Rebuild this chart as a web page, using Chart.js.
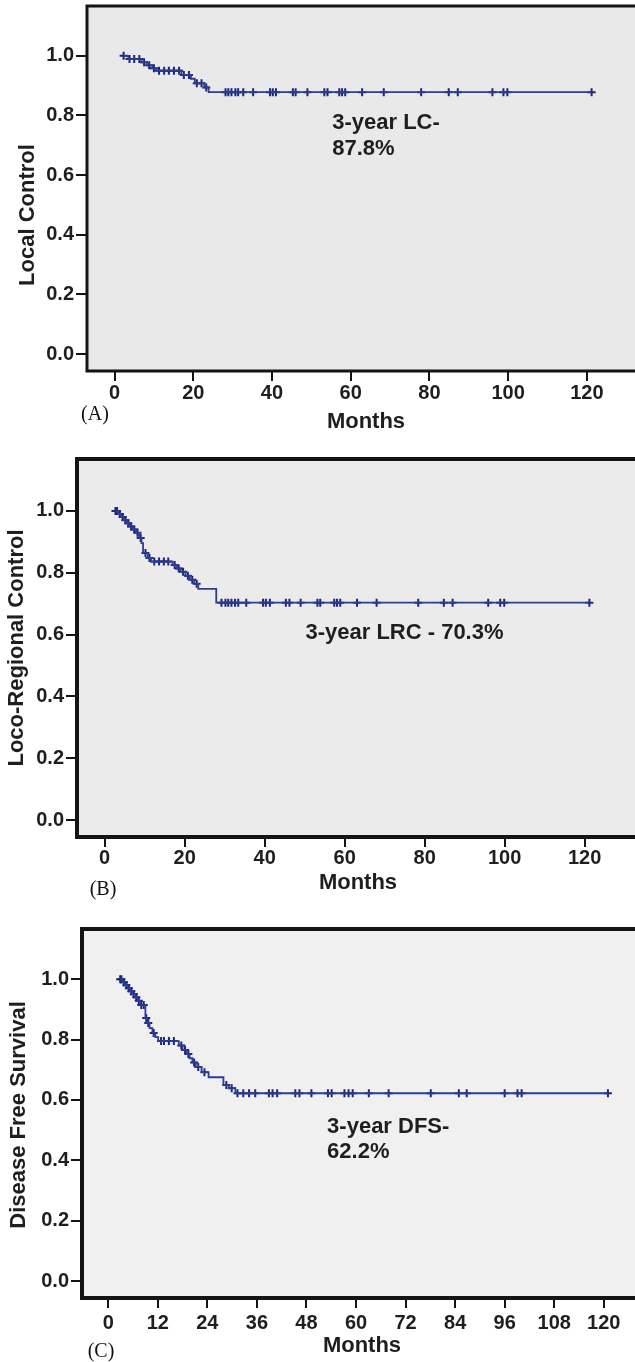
<!DOCTYPE html>
<html>
<head>
<meta charset="utf-8">
<script src="https://cdn.jsdelivr.net/npm/chart.js@4.4.0/dist/chart.umd.min.js"></script>
<style>
  body { margin: 0; background: #fff; }
  #wrap { position: relative; width: 635px; height: 1362px; }
  canvas { position: absolute; left: 0; }
</style>
</head>
<body>
<div id="wrap">
  <canvas id="chartA" width="635" height="440" style="top:0px;width:635px;height:440px"></canvas>
  <canvas id="chartB" width="635" height="460" style="top:440px;width:635px;height:460px"></canvas>
  <canvas id="chartC" width="635" height="462" style="top:900px;width:635px;height:462px"></canvas>
</div>
<script>
// 刻度
const yTicks = [0, 0.2, 0.4, 0.6, 0.8, 1.0];
const xTicksAB = [0, 20, 40, 60, 80, 100, 120];
const xTicksC = [0, 12, 24, 36, 48, 60, 72, 84, 96, 108, 120];

// (A) Local Control: 事件時間 / 存活率 / 截尾時間 (months)
const lcTimes = [2.3, 3.5, 6.8, 8.2, 9.6, 10.6, 17.0, 19.4, 20.4, 22.8, 23.9, 121.2];
const lcSurv  = [1.0, 0.989, 0.978, 0.968, 0.958, 0.950, 0.936, 0.923, 0.908, 0.894, 0.878, 0.878];
const lcCensor = [2.3, 3.8, 5.0, 6.3, 7.5, 8.8, 10.0, 11.3, 12.6, 13.8, 15.1, 16.4, 17.6, 18.9, 20.9, 22.1, 23.3,
  28.2, 28.9, 29.7, 30.7, 31.4, 32.7, 35.2, 39.5, 40.2, 41.0, 45.3, 46.0, 49.0, 53.3, 54.1, 57.1, 57.8, 58.6,
  62.9, 68.4, 77.9, 84.9, 87.2, 96.0, 98.8, 99.8, 121.2];

// (B) Loco-Regional Control
const lrcTimes = [2.7, 3.4, 4.1, 4.8, 5.5, 6.2, 7.0, 7.8, 8.6, 9.2, 9.6, 10.8, 11.6, 17.0, 18.0, 19.0, 20.2, 21.3, 22.4, 23.4, 27.9, 121.2];
const lrcSurv  = [1.0, 0.99, 0.98, 0.97, 0.96, 0.95, 0.94, 0.929, 0.912, 0.896, 0.864, 0.848, 0.836, 0.825, 0.814, 0.803, 0.79, 0.777, 0.764, 0.748, 0.703, 0.703];
const lrcCensor = [2.7, 3.1, 3.8, 4.5, 5.2, 5.9, 6.6, 7.4, 8.2, 9.0, 10.2, 11.2, 12.4, 13.6, 14.8, 15.9, 17.5, 18.5, 19.6, 20.8, 21.9, 23.0,
  29.2, 30.2, 30.9, 31.7, 32.6, 33.4, 35.4, 39.6, 40.3, 41.3, 45.3, 46.2, 49.0, 53.2, 53.9, 57.4, 58.1, 58.9,
  63.1, 68.0, 78.4, 84.8, 87.0, 95.9, 98.9, 99.9, 121.2];

// (C) Disease Free Survival
const dfsTimes = [2.9, 3.5, 4.1, 4.7, 5.3, 5.9, 6.5, 7.1, 7.7, 9.0, 9.4, 10.0, 10.7, 11.4, 12.1, 17.1, 18.0, 19.0, 19.7, 20.4, 21.2, 22.6, 24.3, 27.9, 29.2, 30.8, 121.0];
const dfsSurv  = [1.0, 0.99, 0.98, 0.97, 0.96, 0.95, 0.94, 0.928, 0.914, 0.871, 0.855, 0.838, 0.822, 0.808, 0.795, 0.78, 0.765, 0.752, 0.738, 0.724, 0.709, 0.692, 0.675, 0.649, 0.639, 0.622, 0.622];
const dfsCensor = [2.9, 3.2, 3.8, 4.4, 5.0, 5.6, 6.2, 6.8, 7.4, 8.0, 8.6, 9.2, 9.7, 11.0, 12.8, 13.5, 14.7, 15.9, 17.7, 18.6, 19.4, 20.8, 21.8, 23.3,
  28.6, 29.9, 31.3, 32.7, 34.1, 35.6, 38.9, 39.8, 40.9, 45.3, 46.3, 49.2, 53.2, 54.1, 57.2, 58.2, 59.2,
  63.1, 67.9, 78.1, 84.9, 86.8, 96.0, 99.1, 100.1, 121.0];

// 文字
const yTitles = ["Local Control", "Loco-Regional Control", "Disease Free Survival"];
const xTitle = "Months";
const panelLabels = ["(A)", "(B)", "(C)"];
const noteA = ["3-year LC-", "87.8%"];
const noteB = ["3-year LRC - 70.3%"];
const noteC = ["3-year DFS-", "62.2%"];

const LINE_COLOR = '#2d3d93';
const MARK_COLOR = '#1b2877';
const TEXT_COLOR = '#1e1e1e';
const SANS = "'Liberation Sans', Arial, sans-serif";

// 查 KM 曲線在時間 t 的值
function survAt(times, surv, t) {
    let s = surv[0];
    for (let i = 0; i < times.length; i++) {
        if (times[i] <= t + 1e-9) s = surv[i];
    }
    return s;
}

function createPanel(canvasId, cfg) {
    const curve = cfg.times.map((t, i) => ({ x: t, y: cfg.surv[i] }));
    const marks = cfg.censor.map(t => ({ x: t, y: survAt(cfg.times, cfg.surv, t) }));
    const H = document.getElementById(canvasId).height;

    // 背景、外框、標題文字
    const decor = {
        id: 'decor',
        beforeDraw(chart) {
            const { ctx, chartArea } = chart;
            ctx.save();
            ctx.fillStyle = '#fff';
            ctx.fillRect(0, 0, chart.width, chart.height);
            ctx.fillStyle = cfg.bg;
            ctx.fillRect(chartArea.left, chartArea.top, chart.width - chartArea.left, chartArea.bottom - chartArea.top);
            ctx.restore();
        },
        afterDraw(chart) {
            const { ctx, chartArea } = chart;
            const xs = chart.scales.x, ys = chart.scales.y;
            ctx.save();
            ctx.strokeStyle = '#141414';
            ctx.lineWidth = cfg.frame;
            ctx.lineJoin = 'miter';
            ctx.beginPath();
            ctx.moveTo(chart.width + 5, chartArea.top);
            ctx.lineTo(chartArea.left, chartArea.top);
            ctx.lineTo(chartArea.left, chartArea.bottom);
            ctx.lineTo(chart.width + 5, chartArea.bottom);
            ctx.stroke();

            ctx.fillStyle = TEXT_COLOR;
            ctx.font = 'bold 22px ' + SANS;
            ctx.textAlign = 'center';
            ctx.textBaseline = 'middle';
            ctx.fillText(xTitle, cfg.xTitlePos[0], cfg.xTitlePos[1]);

            ctx.save();
            ctx.translate(cfg.yTitlePos[0], cfg.yTitlePos[1]);
            ctx.rotate(-Math.PI / 2);
            ctx.fillText(cfg.yTitle, 0, 0);
            ctx.restore();

            ctx.font = "20px 'Liberation Serif', 'Times New Roman', serif";
            ctx.fillStyle = '#111';
            ctx.fillText(cfg.label, cfg.labelPos[0], cfg.labelPos[1]);

            // 3-year 註解
            ctx.font = 'bold 22px ' + SANS;
            ctx.fillStyle = TEXT_COLOR;
            ctx.textAlign = 'left';
            ctx.textBaseline = 'alphabetic';
            cfg.note.forEach((line, i) => {
                ctx.fillText(line, xs.getPixelForValue(cfg.noteAt[0]), ys.getPixelForValue(cfg.noteAt[1][i]));
            });
            ctx.restore();
        }
    };

    return new Chart(document.getElementById(canvasId), {
        type: 'line',
        data: {
            datasets: [{
                data: curve,
                borderColor: LINE_COLOR,
                borderWidth: 1.8,
                stepped: true,
                pointRadius: 0,
                fill: false
            }, {
                data: marks,
                showLine: false,
                pointStyle: 'cross',
                pointRadius: 4,
                pointBorderWidth: 2,
                pointBorderColor: MARK_COLOR,
                borderColor: MARK_COLOR
            }]
        },
        options: {
            responsive: false,
            animation: false,
            devicePixelRatio: 1,
            layout: { padding: { top: cfg.padTop, left: 0, right: 0, bottom: 0 } },
            plugins: { legend: { display: false }, tooltip: { enabled: false } },
            scales: {
                x: {
                    type: 'linear',
                    min: cfg.xRange[0],
                    max: cfg.xRange[1],
                    afterBuildTicks: s => { s.ticks = cfg.xTicks.map(v => ({ value: v })); },
                    afterFit: s => {
                        s.height = H - cfg.bottom;
                        s.paddingLeft = 0; s.paddingRight = 0; s.paddingTop = 0; s.paddingBottom = 0;
                    },
                    grid: { drawOnChartArea: false, tickLength: 10, color: '#141414', lineWidth: 2 },
                    border: { display: false },
                    ticks: {
                        color: TEXT_COLOR,
                        padding: cfg.xPad,
                        maxRotation: 0,
                        font: { family: SANS, size: 20, weight: 'bold' },
                        callback: v => String(v)
                    }
                },
                y: {
                    min: cfg.yRange[0],
                    max: cfg.yRange[1],
                    afterBuildTicks: s => { s.ticks = yTicks.map(v => ({ value: v })); },
                    afterFit: s => {
                        s.width = cfg.left;
                        s.paddingLeft = 0; s.paddingRight = 0; s.paddingTop = 0; s.paddingBottom = 0;
                    },
                    grid: { drawOnChartArea: false, tickLength: 11, color: '#141414', lineWidth: 2 },
                    border: { display: false },
                    ticks: {
                        color: TEXT_COLOR,
                        padding: 2,
                        font: { family: SANS, size: 20, weight: 'bold' },
                        callback: v => v.toFixed(1)
                    }
                }
            }
        },
        plugins: [decor]
    });
}

createPanel('chartA', {
    times: lcTimes, surv: lcSurv, censor: lcCensor,
    xTicks: xTicksAB, xRange: [-7.0, 130.7], yRange: [-0.057, 1.167],
    padTop: 5, left: 87, bottom: 371, xPad: 0, frame: 3, bg: '#e9e9e9',
    yTitle: yTitles[0], yTitlePos: [28, 215], xTitlePos: [366, 422], label: panelLabels[0], labelPos: [95, 415],
    note: noteA, noteAt: [55.3, [0.756, 0.666]]
});

createPanel('chartB', {
    times: lrcTimes, surv: lrcSurv, censor: lrcCensor,
    xTicks: xTicksAB, xRange: [-6.92, 131.1], yRange: [-0.055, 1.168],
    padTop: 19, left: 77, bottom: 397, xPad: -1, frame: 4, bg: '#ebebeb',
    yTitle: yTitles[1], yTitlePos: [17, 208], xTitlePos: [358, 443], label: panelLabels[1], labelPos: [103, 450],
    note: noteB, noteAt: [50.2, [0.586]]
});

createPanel('chartC', {
    times: dfsTimes, surv: dfsSurv, censor: dfsCensor,
    xTicks: xTicksC, xRange: [-6.35, 126.1], yRange: [-0.056, 1.166],
    padTop: 29, left: 82, bottom: 398, xPad: 3, frame: 4, bg: '#f0f0f0',
    yTitle: yTitles[2], yTitlePos: [19, 215], xTitlePos: [362, 446], label: panelLabels[2], labelPos: [101, 452],
    note: noteC, noteAt: [53.0, [0.490, 0.407]]
});
</script>
</body>
</html>
